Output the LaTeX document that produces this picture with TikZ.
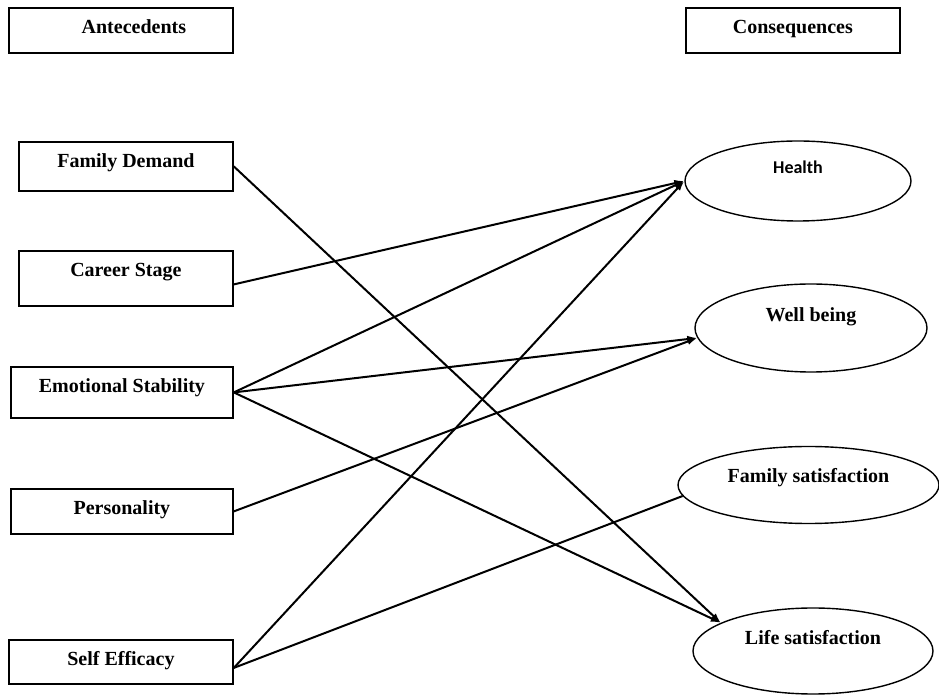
\documentclass[tikz,border=0pt]{standalone}
\usepackage{fontspec}
\setmainfont{Liberation Serif}
\newfontfamily\healthfont{Carlito}
\usepackage{tikz}
\usetikzlibrary{arrows.meta, shapes.geometric}
\tikzset{box node/.style={rectangle, draw, line width=0.9pt, font=\bfseries, anchor=north west, inner xsep=0pt, inner ysep=3pt, text height=10pt, text depth=#1},
	box node/.default=6.5pt,
	out node/.style={ellipse, draw, line width=0.7pt, font=\bfseries, inner sep=0pt, text height=7pt, text depth=#1},}

\begin{document}
\begin{tikzpicture}[x=0.5pt, y=-0.5pt, -{Latex[length=5pt, width=3.5pt]}]
		\useasboundingbox (0,0) rectangle (939,695);
		% Headers
		\node[box node, minimum width=112pt] (ante) at (8,7) {\hspace*{13pt}Antecedents};
		\node[box node, minimum width=107pt] (cons) at (685,7) {Consequences};
		% Antecedents
		\node[box node=8.5pt, minimum width=107pt] (fd) at (18,141) {Family Demand};
		\node[box node=11.5pt, minimum width=107pt] (cs) at (18,250) {Career Stage};
		\node[box node=9.5pt, minimum width=111pt] (es) at (10,366) {Emotional Stability};
		\node[box node=6.5pt, minimum width=111pt] (pe) at (10,488) {Personality};
		\node[box node=6pt, minimum width=112pt] (se) at (8,639) {Self Efficacy};
		% Consequences
		\node[out node=14pt, minimum width=113pt, minimum height=40pt, font=\healthfont\bfseries\small] (hl) at (798,181) {Health};
		\node[out node=13pt, minimum width=116pt, minimum height=44pt] (wb) at (811,328) {Well being};
		\node[out node=9pt, minimum width=130.5pt, minimum height=38.5pt] (fs) at (808.5,485) {Family satisfaction};
		\node[out node=13pt, minimum width=120pt, minimum height=43pt] (ls) at (813,651) {Life satisfaction};
		% Paths
		\path[line width=1pt]
		(fd.east) edge (ls.163)
		([yshift=-3pt]cs.east) edge (hl.west)
		(es.east) edge (hl.west)
		(es.east) edge (wb.185)
		(es.east) edge (ls.163)
		(pe.east) edge (wb.185)
		([yshift=-3pt]se.east) edge (hl.west)
		([yshift=-3pt]se.east) edge[-] (fs.185);
	\end{tikzpicture}
\end{document}
